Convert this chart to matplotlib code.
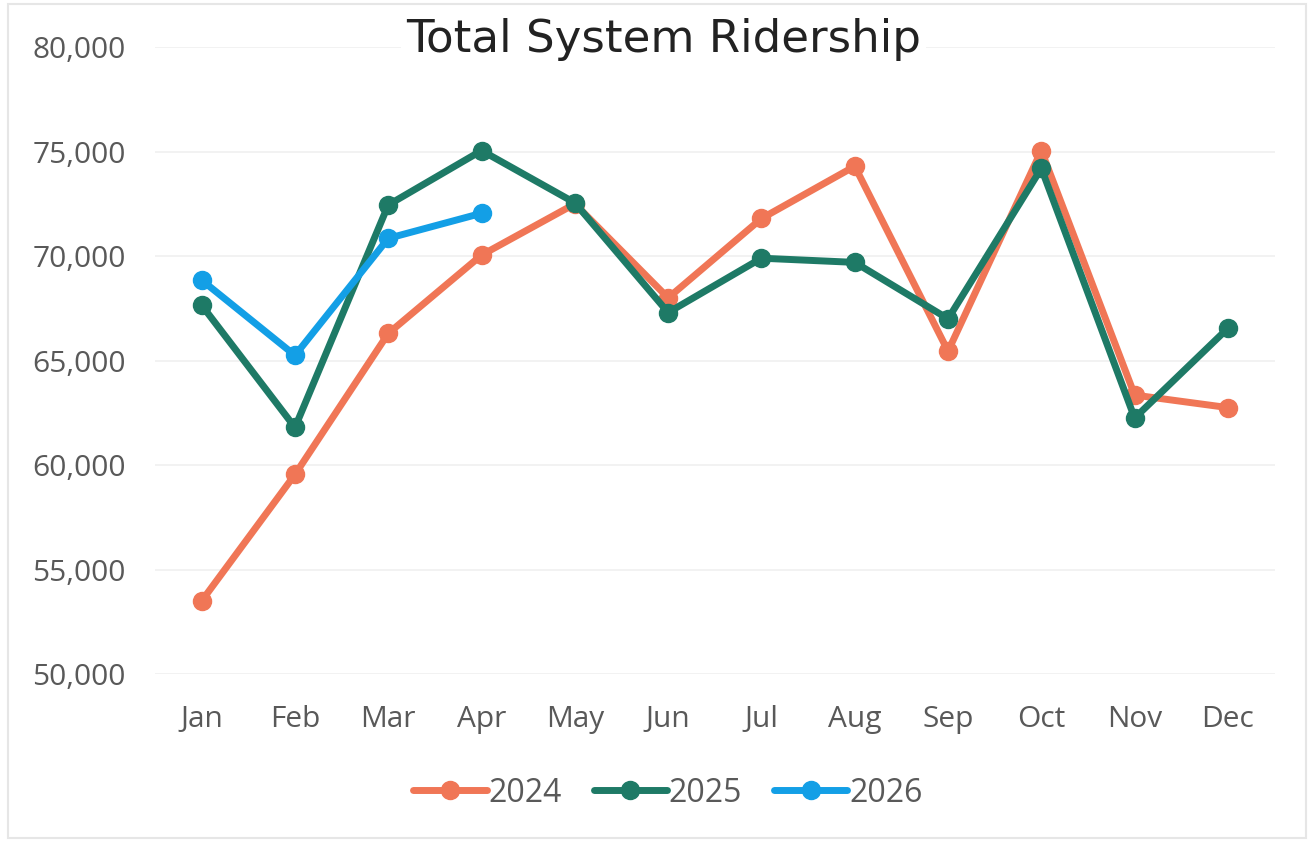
"""Total system ridership by month, 2024-2026."""

import matplotlib

matplotlib.use("Agg")
import matplotlib.pyplot as plt
from matplotlib.patches import Rectangle
from matplotlib.ticker import FuncFormatter

months = ["Jan", "Feb", "Mar", "Apr", "May", "Jun", "Jul", "Aug", "Sep", "Oct", "Nov", "Dec"]
riders_2024 = [53500, 59550, 66300, 70050, 72500, 68000, 71800, 74300, 65450, 75050, 63350, 62750]
riders_2025 = [67650, 61800, 72450, 75050, 72550, 67300, 69900, 69700, 67000, 74200, 62250, 66550]
riders_2026 = [68850, 65250, 70850, 72050]

colors = {"2024": "#F07656", "2025": "#1E7A66", "2026": "#139FE6"}

fig = plt.figure(figsize=(13.14, 8.42), dpi=100)
ax = fig.add_axes([0.118, 0.1995, 0.852, 0.7445])

x = list(range(len(months)))
for label, vals in (("2024", riders_2024), ("2025", riders_2025), ("2026", riders_2026)):
    ax.plot(
        x[: len(vals)],
        vals,
        "-o",
        color=colors[label],
        linewidth=5,
        markersize=13,
        solid_capstyle="round",
        label=label,
    )

ax.set_xlim(-0.5, 11.5)
ax.set_ylim(50000, 80000)
ax.set_yticks(range(50000, 80001, 5000))
ax.yaxis.set_major_formatter(FuncFormatter(lambda v, _: f"{int(v):,}"))
ax.set_xticks(x)
ax.set_xticklabels(months)
ax.tick_params(length=0, labelsize=21.5, labelcolor="#595959")
ax.tick_params(axis="x", pad=22)
ax.tick_params(axis="y", pad=21)
for lbl in ax.get_xticklabels() + ax.get_yticklabels():
    lbl.set_fontfamily("Open Sans")

ax.grid(True, axis="y", color="#F0F0F0", linewidth=1.2)
ax.set_axisbelow(True)
for s in ax.spines.values():
    s.set_visible(False)

fig.text(
    0.505,
    0.953,
    "Total System Ridership",
    ha="center",
    va="center",
    fontsize=32.5,
    color="#222222",
    bbox=dict(facecolor="white", edgecolor="none", pad=4),
)

leg = ax.legend(
    loc="center",
    bbox_to_anchor=(0.458, -0.19),
    ncol=3,
    frameon=False,
    handlelength=2.3,
    columnspacing=1.0,
    handletextpad=0.05,
    prop={"family": "Open Sans", "size": 23},
)
for t in leg.get_texts():
    t.set_color("#595959")

fig.patches.append(
    Rectangle((0.006, 0.005), 0.988, 0.99, transform=fig.transFigure,
              fill=False, edgecolor="#E6E6E6", linewidth=1.5)
)

plt.savefig("out.png", dpi=100)
plt.close()
